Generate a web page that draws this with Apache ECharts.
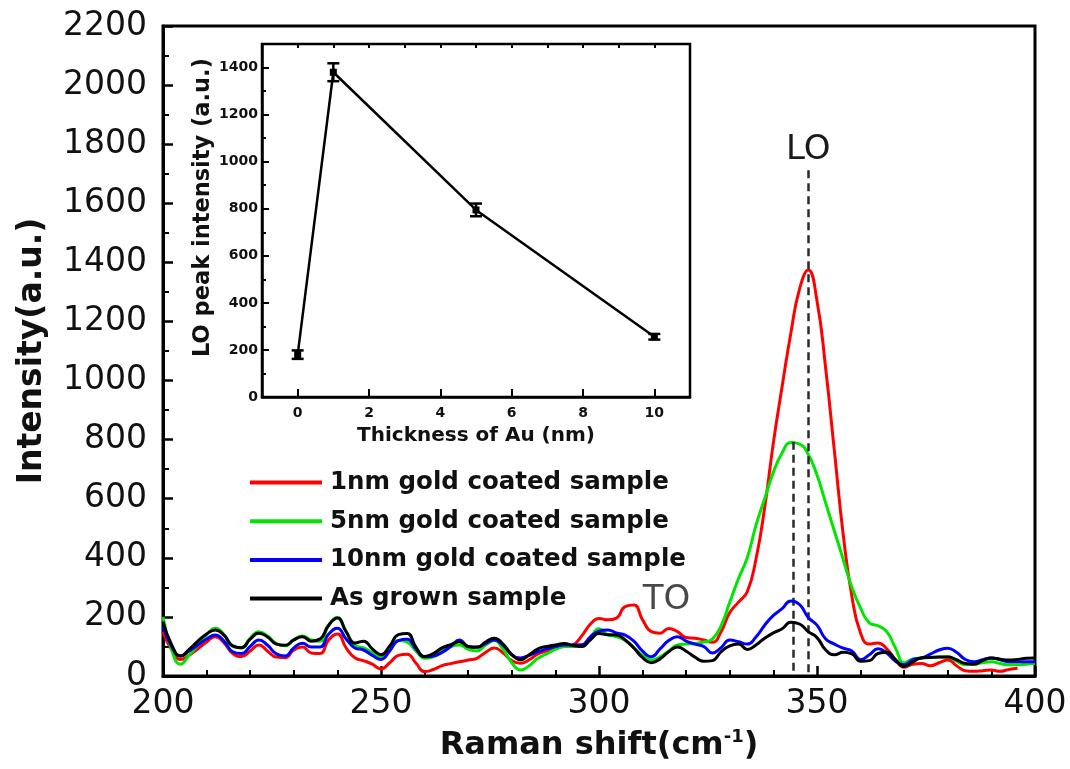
<!DOCTYPE html>
<html>
<head>
<meta charset="utf-8">
<title>Raman spectra of gold coated samples</title>
<script src="https://cdn.jsdelivr.net/npm/echarts@6/dist/echarts.min.js"></script>
<style>
  html, body { margin: 0; padding: 0; background: #ffffff; }
  #chart { width: 1070px; height: 769px; }
</style>
</head>
<body>
<div id="chart"></div>
<script>
// Raman shift axis (cm^-1)
const shift = [
  200, 202, 204, 206, 208, 210, 212, 214, 216, 218,
  220, 222, 224, 226, 228, 230, 232, 234, 236, 238,
  240, 242, 244, 246, 248, 250, 252, 254, 256, 258,
  260, 262, 264, 266, 268, 270, 272, 274, 276, 278,
  280, 282, 284, 286, 288, 290, 292, 294, 296, 298,
  300, 302, 304, 306, 308, 310, 312, 314, 316, 318,
  320, 322, 324, 326, 328, 330, 332, 334, 336, 338,
  340, 342, 344, 346, 348, 350, 352, 354, 356, 358,
  360, 362, 364, 366, 368, 370, 372, 374, 376, 378,
  380, 382, 384, 386, 388, 390, 392, 394, 396, 398,
  400
];

// Intensity (a.u.) of each sample along the shift axis
const gold1nm = [
  150, 88, 56, 70, 92, 115, 133, 112, 76, 66,
  85, 105, 84, 64, 62, 88, 98, 78, 76, 122,
  142, 95, 62, 52, 40, 24, 45, 70, 74, 44,
  15, 22, 35, 42, 48, 54, 60, 80, 95, 78,
  52, 43, 55, 75, 85, 95, 100, 105, 135, 175,
  195, 190, 196, 235, 240, 190, 150, 145, 161, 150,
  130, 128, 122, 114, 150, 215, 250, 285, 395, 570,
  790, 980, 1160, 1310, 1374, 1270, 1040, 760, 480, 270,
  145, 108, 112, 92, 55, 30, 40, 42, 35, 45,
  54, 35, 18, 16, 18, 20, 16, 22, 26, null,
  null
];

const gold5nm = [
  200, 88, 40, 70, 105, 140, 162, 140, 100, 95,
  128, 150, 135, 110, 102, 122, 135, 122, 118, 172,
  198, 150, 105, 95, 80, 65, 90, 120, 115, 85,
  60, 65, 85, 100, 105, 90, 85, 105, 120, 90,
  45, 20, 35, 60, 75, 90, 100, 100, 100, 130,
  160, 140, 133, 120, 95, 70, 54, 65, 85, 105,
  108, 110, 115, 125, 170, 250, 330, 400, 510, 600,
  690, 755, 790, 785, 750, 680, 585, 490, 395, 300,
  230, 180, 170, 150, 95, 45, 58, 61, 63, 64,
  65, 50, 38, 40, 45, 48, 42, 38, 38, 40,
  43
];

const gold10nm = [
  167, 100, 68, 85, 105, 125, 139, 118, 82, 76,
  100, 122, 104, 75, 68, 95, 111, 98, 98, 142,
  162, 125, 95, 88, 70, 56, 85, 120, 124, 92,
  65, 68, 80, 100, 122, 100, 98, 110, 122, 104,
  72, 61, 70, 82, 92, 100, 105, 105, 106, 132,
  152, 156, 146, 138, 118, 84, 65, 92, 120, 133,
  118, 108, 100, 78, 96, 122, 116, 108, 132, 172,
  205, 228, 254, 242, 198, 172, 125, 108, 94, 85,
  55, 72, 92, 78, 50, 38, 55, 61, 74, 88,
  94, 80, 56, 48, 55, 61, 55, 48, 48, 48,
  48
];

const asGrown = [
  184, 105, 68, 90, 118, 142, 156, 138, 102, 96,
  125, 145, 132, 108, 104, 122, 133, 118, 125, 172,
  196, 150, 112, 118, 92, 72, 102, 140, 144, 98,
  66, 76, 95, 106, 116, 100, 97, 115, 128, 108,
  72, 55, 72, 92, 100, 105, 110, 103, 100, 122,
  144, 140, 139, 122, 95, 62, 45, 58, 82, 98,
  84, 64, 50, 52, 82, 102, 108, 90, 105, 128,
  146, 160, 182, 176, 150, 130, 88, 72, 80, 75,
  50, 52, 76, 80, 55, 32, 48, 62, 63, 64,
  64, 55, 42, 40, 52, 61, 57, 54, 56, 60,
  61
];

const seriesNames = [
  '1nm gold coated sample',
  '5nm gold coated sample',
  '10nm gold coated sample',
  'As grown sample'
];
const seriesColors = ['#ff0000', '#00e600', '#0000ff', '#000000'];

// LO phonon marker positions: 1nm peak and 5nm peak
const loShift = 348;
const loTop = 1712;
const loShift5nm = 344.6;
const loPeak5nm = 793;
// TO phonon label position
const toLabel = [315.5, 255];

// Inset: LO peak intensity vs Au thickness
const thickness = [0, 1, 5, 10];
const loPeak = [180, 1380, 795, 256];
const loErr = [18, 38, 27, 12];
const insetXTicks = [0, 2, 4, 6, 8, 10];

const FONT = 'DejaVu Sans';
const plain = function (v) { return String(v); };

function toPairs(values) {
  return shift.map((x, i) => [x, values[i]]);
}

const spectra = [gold1nm, gold5nm, gold10nm, asGrown].map((vals, i) => ({
  name: seriesNames[i],
  type: 'line',
  xAxisIndex: 0,
  yAxisIndex: 0,
  data: toPairs(vals),
  smooth: 0.5,
  showSymbol: false,
  connectNulls: false,
  lineStyle: { width: 3, color: seriesColors[i] },
  itemStyle: { color: seriesColors[i] },
  z: 3 + i
}));

// dashed guide lines at the LO positions
spectra[3].markLine = {
  silent: true,
  symbol: ['none', 'none'],
  animation: false,
  lineStyle: { type: [8, 5], width: 2.5, color: '#2a2a2a' },
  data: [
    [
      { coord: [loShift, loTop], label: { show: true, formatter: 'LO', position: 'start', distance: 3,
        fontFamily: FONT, fontSize: 34, color: '#1a1a1a' } },
      { coord: [loShift, 0] }
    ],
    [
      { coord: [loShift5nm, loPeak5nm], label: { show: false } },
      { coord: [loShift5nm, 0] }
    ]
  ]
};

const tickColor = '#000';

const option = {
  animation: false,
  backgroundColor: '#ffffff',
  legend: {
    data: seriesNames,
    orient: 'vertical',
    left: 245,
    top: 465,
    icon: 'rect',
    itemWidth: 72,
    itemHeight: 4,
    itemGap: 13.7,
    selectedMode: false,
    textStyle: { fontFamily: FONT, fontSize: 24.5, fontWeight: 'bold', color: '#111', padding: [0, 0, 0, 3] }
  },
  grid: [
    { left: 163, top: 26, width: 872, height: 650, show: true, borderColor: '#000', borderWidth: 3, backgroundColor: 'transparent' },
    { left: 262, top: 44, width: 428, height: 353, show: true, borderColor: '#000', borderWidth: 2.5, backgroundColor: 'transparent' }
  ],
  xAxis: [
    {
      gridIndex: 0, type: 'value', min: 200, max: 400, interval: 50,
      axisLine: { onZero: false, lineStyle: { color: '#000', width: 3 } },
      axisTick: { inside: true, length: 10, lineStyle: { color: tickColor, width: 2.5 } },
      minorTick: { show: true, splitNumber: 5, length: 6, lineStyle: { color: tickColor, width: 2 } },
      splitLine: { show: false },
      axisLabel: { margin: 12, formatter: plain, fontFamily: FONT, fontSize: 33, color: '#111' },
      name: 'Raman shift(cm{sup|-1})',
      nameLocation: 'middle',
      nameGap: 52,
      nameTextStyle: {
        fontFamily: FONT, fontSize: 32, fontWeight: 'bold', color: '#111',
        rich: { sup: { fontFamily: FONT, fontSize: 18, fontWeight: 'bold', color: '#111', verticalAlign: 'top', lineHeight: 36 } }
      }
    },
    {
      gridIndex: 1, type: 'value', min: -1, max: 11,
      axisLine: { onZero: false, lineStyle: { color: '#000', width: 2.5 } },
      axisTick: { inside: true, length: 8, customValues: insetXTicks, lineStyle: { color: tickColor, width: 2 } },
      splitLine: { show: false },
      axisLabel: { margin: 9, customValues: insetXTicks, formatter: plain, fontFamily: FONT, fontSize: 14, fontWeight: 'bold', color: '#111' },
      name: 'Thickness of Au (nm)',
      nameLocation: 'middle',
      nameGap: 29,
      nameTextStyle: { fontFamily: FONT, fontSize: 20, fontWeight: 'bold', color: '#111' }
    },
    {
      // short ticks at odd thickness values
      gridIndex: 1, type: 'value', min: -1, max: 11, interval: 1,
      axisLine: { show: false, onZero: false },
      axisTick: { inside: true, length: 4, lineStyle: { color: tickColor, width: 2 } },
      axisLabel: { show: false },
      splitLine: { show: false }
    }
  ],
  yAxis: [
    {
      gridIndex: 0, type: 'value', min: 0, max: 2200, interval: 200,
      axisLine: { onZero: false, lineStyle: { color: '#000', width: 3 } },
      axisTick: { inside: true, length: 10, lineStyle: { color: tickColor, width: 2.5 } },
      minorTick: { show: true, splitNumber: 2, length: 6, lineStyle: { color: tickColor, width: 2 } },
      splitLine: { show: false },
      axisLabel: { margin: 16, formatter: plain, fontFamily: FONT, fontSize: 33, color: '#111' },
      name: 'Intensity(a.u.)',
      nameLocation: 'middle',
      nameGap: 114,
      nameTextStyle: { fontFamily: FONT, fontSize: 33, fontWeight: 'bold', color: '#111' }
    },
    {
      gridIndex: 1, type: 'value', min: 0, max: 1500, interval: 200,
      axisLine: { onZero: false, lineStyle: { color: '#000', width: 2.5 } },
      axisTick: { inside: true, length: 7, lineStyle: { color: tickColor, width: 2 } },
      minorTick: { show: true, splitNumber: 2, length: 4, lineStyle: { color: tickColor, width: 2 } },
      splitLine: { show: false },
      axisLabel: { margin: 4, showMaxLabel: false, formatter: plain, fontFamily: FONT, fontSize: 14, fontWeight: 'bold', color: '#111' },
      name: 'LO peak intensity (a.u.)',
      nameLocation: 'middle',
      nameGap: 47,
      nameTextStyle: { fontFamily: FONT, fontSize: 22.5, fontWeight: 'bold', color: '#111', padding: [0, 0, 0, 26] }
    }
  ],
  series: spectra.concat([
    {
      name: 'TO',
      type: 'scatter',
      xAxisIndex: 0,
      yAxisIndex: 0,
      data: [toLabel],
      symbolSize: 1,
      itemStyle: { color: 'rgba(0,0,0,0)' },
      silent: true,
      label: { show: true, position: 'inside', formatter: 'TO', fontFamily: FONT, fontSize: 34, color: '#1a1a1a' },
      z: 10
    },
    {
      name: 'LO peak',
      type: 'line',
      xAxisIndex: 1,
      yAxisIndex: 1,
      data: thickness.map((t, i) => [t, loPeak[i]]),
      symbol: 'rect',
      symbolSize: 7,
      lineStyle: { color: '#000', width: 2.5 },
      itemStyle: { color: '#000' },
      z: 10
    },
    {
      name: 'LO peak error',
      type: 'custom',
      xAxisIndex: 1,
      yAxisIndex: 1,
      data: thickness.map((t, i) => [t, loPeak[i] - loErr[i], loPeak[i] + loErr[i]]),
      renderItem: function (params, api) {
        const x = api.value(0);
        const lo = api.coord([x, api.value(1)]);
        const hi = api.coord([x, api.value(2)]);
        const half = 6;
        const style = { stroke: '#000', lineWidth: 2.5 };
        return {
          type: 'group',
          children: [
            { type: 'line', shape: { x1: lo[0], y1: lo[1], x2: hi[0], y2: hi[1] }, style: style },
            { type: 'line', shape: { x1: lo[0] - half, y1: lo[1], x2: lo[0] + half, y2: lo[1] }, style: style },
            { type: 'line', shape: { x1: hi[0] - half, y1: hi[1], x2: hi[0] + half, y2: hi[1] }, style: style }
          ]
        };
      },
      z: 11
    }
  ])
};

const chart = echarts.init(document.getElementById('chart'), null, { renderer: 'canvas' });
chart.setOption(option);
</script>
</body>
</html>
